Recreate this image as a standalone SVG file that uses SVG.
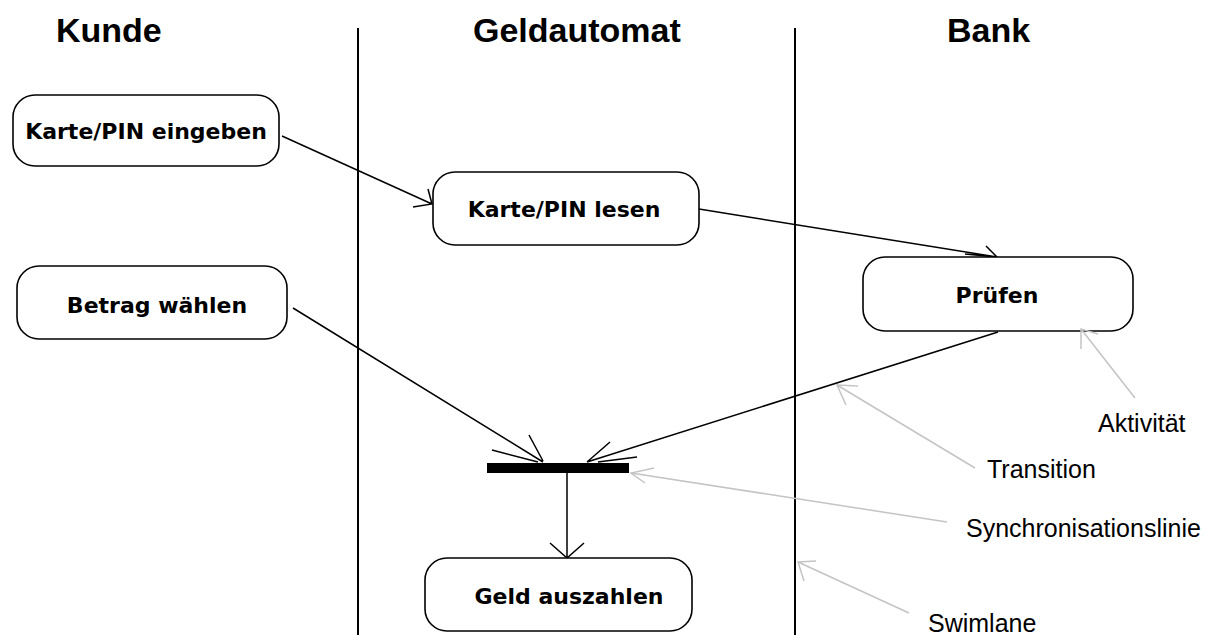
<svg xmlns="http://www.w3.org/2000/svg" width="1205" height="635" viewBox="0 0 1205 635">
<style>
.hdr{font-family:"Liberation Sans",Arial,sans-serif;font-weight:bold;font-size:34px;fill:#000}
.node rect{fill:#fff;stroke:#000;stroke-width:1.6}
.node text{font-family:"DejaVu Sans",Verdana,sans-serif;font-weight:bold;font-size:22px;fill:#000;text-anchor:middle}
.lane{stroke:#000;stroke-width:2}
.conn{fill:none;stroke:#000;stroke-width:1.5}
.note{fill:none;stroke:#c4c4c4;stroke-width:1.5}
.lbl{font-family:"Liberation Sans",Arial,sans-serif;font-size:25px;fill:#000}
</style>
<rect width="1205" height="635" fill="#fff"/>
<g id="headers">
<text class="hdr" x="56" y="42">Kunde</text>
<text class="hdr" x="473" y="42">Geldautomat</text>
<text class="hdr" x="947" y="42">Bank</text>
</g>
<g id="swimlanes">
<line class="lane" x1="358" y1="28" x2="358" y2="635"/>
<line class="lane" x1="795" y1="28" x2="795" y2="635"/>
</g>
<g id="connectors">
<path class="conn" d="M282,136 L432,204 M413,207 L432,204 L428,189"/>
<path class="conn" d="M699,209 L997,257 M986,246 L997,257 L965,254"/>
<path class="conn" d="M293,308 L543,462 M492,450 L538,462 M529,435 L543,461"/>
<path class="conn" d="M998,332 L587,462 M610,442 L587,462 M637,457 L598,462"/>
<path class="conn" d="M567,473 L567,558 M550,543 L567,558 L584,543"/>
</g>
<g id="node-karte-eingeben" class="node">
<rect x="13" y="95" width="266" height="71" rx="22" ry="22"/>
<text x="146" y="139">Karte/PIN eingeben</text>
</g>
<g id="node-karte-lesen" class="node">
<rect x="433" y="172" width="266" height="73" rx="22" ry="22"/>
<text x="564" y="217">Karte/PIN lesen</text>
</g>
<g id="node-betrag" class="node">
<rect x="17" y="266" width="270" height="73" rx="22" ry="22"/>
<text x="157" y="313">Betrag wählen</text>
</g>
<g id="node-pruefen" class="node">
<rect x="863" y="257" width="270" height="74" rx="22" ry="22"/>
<text x="997" y="303">Prüfen</text>
</g>
<g id="node-geld" class="node">
<rect x="425" y="558" width="267" height="73" rx="22" ry="22"/>
<text x="569" y="604">Geld auszahlen</text>
</g>
<g id="sync-bar">
<rect x="487" y="463" width="142" height="10" fill="#000"/>
</g>
<g id="annotations">
<path class="note" d="M1135,398 L1081,329 M1081,349 L1081,329 L1098,334"/>
<path class="note" d="M975,468 L837,385 M858,386 L837,385 L846,405"/>
<path class="note" d="M947,522 L631,473 M654,468 L631,473 L645,483"/>
<path class="note" d="M909,613 L798,562 M816,561 L798,562 L804,581"/>
<text class="lbl" x="1098" y="432">Aktivität</text>
<text class="lbl" x="987" y="478">Transition</text>
<text class="lbl" x="966" y="537">Synchronisationslinie</text>
<text class="lbl" x="928" y="632">Swimlane</text>
</g>
</svg>
